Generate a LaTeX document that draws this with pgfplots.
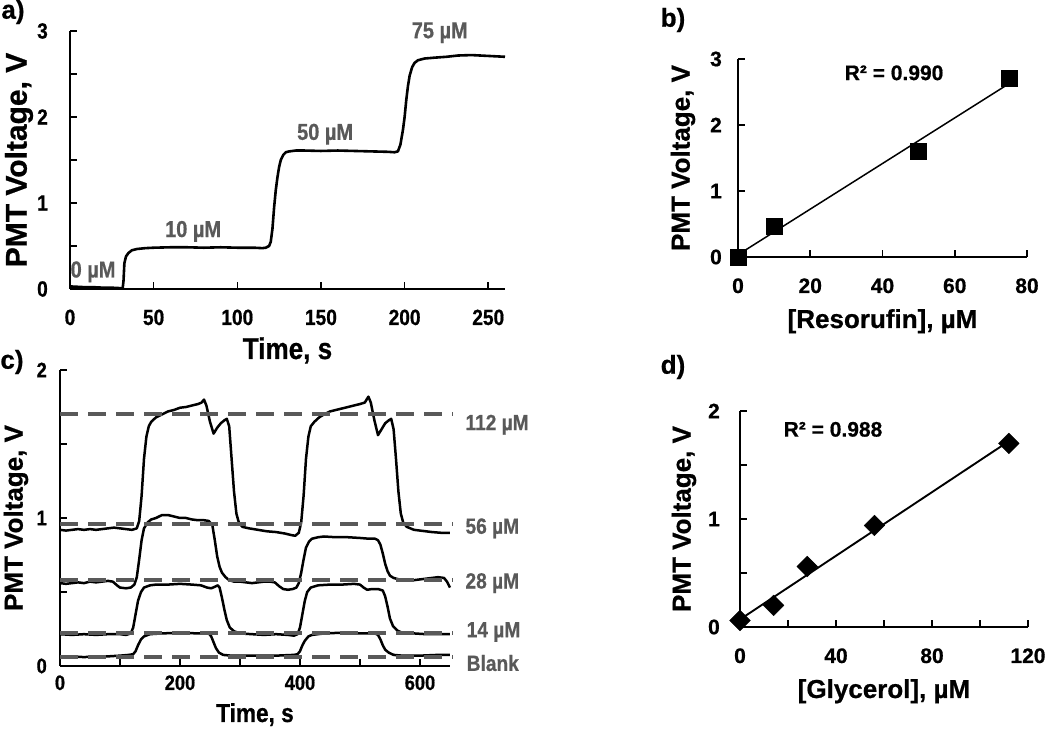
\documentclass[border=0pt]{standalone}
\usepackage{pgfplots}
\pgfplotsset{compat=1.18}
\usepackage{fontspec}
\setmainfont{Liberation Sans}[BoldFeatures={FakeBold=0.7}]
\newfontfamily\nar{Liberation Sans}[FakeStretch=0.87, BoldFeatures={FakeBold=0.7}]
\definecolor{lab}{HTML}{595959}
\newcommand{\fs}[1]{\fontsize{#1pt}{#1pt}\selectfont}

\pgfplotsset{
  base/.style={scale only axis, axis lines=left, axis line style={-, line width=2.2pt},
    tick align=inside, tick style={black, line width=1.6pt},
    major tick length=7pt, minor tick length=7pt, clip=false,
    /pgf/number format/assume math mode=true, anchor=south west,
    xticklabel style={anchor=base, inner sep=0pt},
    yticklabel style={anchor=east, inner sep=0pt},
    xlabel style={at={(axis description cs:0.5,0)}, anchor=base, inner sep=0pt},
    ylabel style={at={(axis description cs:0,0.5)}, anchor=center, inner sep=0pt},
  },
}

\begin{document}
\begin{tikzpicture}[x=1pt,y=1pt]
\useasboundingbox (0,0) rectangle (1050,730);

% ---------------- panel a ----------------
\begin{axis}[base, at={(70pt,441pt)}, width=435pt, height=258pt,
  xmin=0, xmax=260, ymin=0, ymax=3,
  xtick={0,50,100,150,200,250}, ytick={0,1,2,3}, minor y tick num=1,
  ticklabel style={font=\nar\bfseries\fs{22}},
  xticklabel style={yshift=-36pt}, yticklabel style={xshift=-22pt},
  label style={font=\bfseries\fs{30}},
  xlabel={\nar Time, s}, xlabel style={yshift=-70pt},
  ylabel={PMT Voltage, V}, ylabel style={yshift=51pt},
]
\addplot[black, line width=2.6pt, line join=round] coordinates {
(0,0.03) (5,0.025) (10,0.02) (15,0.02) (20,0.015) (25,0.015) (30,0.01) (31.5,0.01)
(32,0.1) (32.5,0.3) (33.5,0.38) (35,0.42) (37,0.45) (40,0.465) (45,0.475) (50,0.48)
(60,0.485) (70,0.485) (80,0.48) (90,0.485) (100,0.48) (110,0.48) (115,0.475) (117,0.48)
(119,0.5) (120,0.55) (121,0.7) (122,0.95) (123,1.15) (124,1.3) (125,1.42) (126,1.5)
(127.5,1.56) (129,1.59) (131,1.6) (135,1.61) (140,1.61) (150,1.605) (160,1.61) (170,1.605)
(180,1.6) (190,1.595) (194,1.59) (196,1.6) (197.5,1.68) (199,1.85) (200,2.0) (201,2.2)
(202,2.36) (203,2.48) (204.5,2.58) (206,2.63) (208,2.66) (212,2.68) (218,2.69) (225,2.7)
(232,2.715) (240,2.72) (250,2.71) (260,2.7)};
\node[lab, font=\nar\bfseries\fs{23}] at (axis cs:13.8,0.2) {0 µM};
\node[lab, font=\nar\bfseries\fs{23}] at (axis cs:73.6,0.67) {10 µM};
\node[lab, font=\nar\bfseries\fs{23}] at (axis cs:152.5,1.8) {50 µM};
\node[lab, font=\nar\bfseries\fs{23}] at (axis cs:221,2.98) {75 µM};
\end{axis}

% ---------------- panel b ----------------
\begin{axis}[base, at={(738pt,473pt)}, width=289pt, height=198pt,
  xmin=0, xmax=80, ymin=0, ymax=3,
  xtick={0,20,40,60,80}, ytick={0,1,2,3},
  ticklabel style={font=\bfseries\fs{21}},
  xticklabel style={yshift=-36pt}, yticklabel style={xshift=-16pt},
  label style={font=\bfseries\fs{26}},
  xlabel={[Resorufin], µM}, xlabel style={yshift=-71pt},
  ylabel={PMT Voltage, V}, ylabel style={yshift=55pt},
]
\addplot[black, line width=1.5pt] coordinates {(0,0.034) (75,2.626)};
\addplot[only marks, mark=square*, mark size=8pt, black] coordinates {(0,0) (10,0.47) (50,1.6) (75,2.71)};
\node[font=\bfseries\fs{21}] at (axis cs:43.2,2.79) {R² = 0.990};
\end{axis}

% ---------------- panel c ----------------
\begin{axis}[base, at={(60pt,64pt)}, width=390pt, height=296pt,
  xmin=0, xmax=650, ymin=0, ymax=2,
  xtick={0,200,400,600}, minor x tick num=1, ytick={0,1,2}, minor y tick num=1,
  axis line style={line width=1.8pt},
  ticklabel style={font=\nar\bfseries\fs{21}},
  xticklabel style={yshift=-24pt}, yticklabel style={xshift=-13pt},
  label style={font=\bfseries\fs{26}},
  xlabel={\nar Time, s}, xlabel style={yshift=-56pt},
  ylabel={PMT Voltage, V}, ylabel style={yshift=44pt},
]
\pgfplotsset{trace/.style={black, line width=2.5pt, line join=round}}
% 112 uM
\addplot[trace] coordinates {
(0,0.92) (10,0.915) (20,0.92) (30,0.925) (40,0.92) (50,0.925) (60,0.92) (70,0.925) (80,0.93)
(90,0.935) (100,0.93) (110,0.925) (120,0.92) (128,0.93) (132,0.98) (136,1.15) (140,1.4)
(144,1.55) (148,1.62) (152,1.65) (160,1.68) (170,1.70) (180,1.72) (190,1.73) (200,1.745)
(210,1.75) (220,1.76) (230,1.77) (236,1.78) (240,1.80) (244,1.76) (250,1.65) (256,1.57)
(262,1.61) (268,1.64) (274,1.66) (278,1.67) (282,1.62) (286,1.40) (290,1.18) (294,1.03)
(298,0.97) (304,0.94) (315,0.93) (330,0.92) (345,0.91) (360,0.905) (375,0.895) (385,0.885)
(392,0.88) (398,0.9) (402,0.97) (406,1.15) (410,1.4) (414,1.55) (418,1.62) (424,1.65)
(432,1.68) (440,1.70) (450,1.72) (460,1.73) (470,1.74) (480,1.75) (490,1.76) (500,1.77)
(508,1.78) (514,1.82) (518,1.78) (524,1.66) (530,1.56) (536,1.6) (542,1.64) (548,1.66)
(552,1.67) (556,1.60) (560,1.40) (564,1.18) (568,1.03) (572,0.97) (578,0.94) (590,0.92)
(600,0.915) (620,0.905) (635,0.90) (650,0.90)};
% 56 uM
\addplot[trace] coordinates {
(0,0.56) (10,0.555) (20,0.56) (30,0.565) (40,0.56) (50,0.57) (60,0.565) (70,0.57) (80,0.575)
(88,0.57) (95,0.545) (100,0.53) (110,0.525) (118,0.53) (124,0.55) (128,0.6) (132,0.72)
(136,0.85) (140,0.93) (146,0.97) (152,0.99) (160,1.0) (170,1.02) (180,1.02) (190,1.01)
(200,1.0) (210,1.0) (220,0.99) (230,0.985) (240,0.985) (248,0.98) (254,0.95) (258,0.85)
(262,0.74) (266,0.67) (270,0.63) (276,0.6) (282,0.58) (290,0.57) (300,0.57) (310,0.565)
(320,0.56) (330,0.565) (340,0.57) (350,0.57) (358,0.565) (365,0.54) (372,0.52) (380,0.515)
(388,0.52) (394,0.53) (398,0.56) (402,0.63) (406,0.72) (410,0.80) (415,0.84) (420,0.86)
(430,0.87) (440,0.875) (460,0.87) (480,0.87) (500,0.865) (515,0.86) (525,0.86) (530,0.85)
(534,0.82) (538,0.76) (542,0.69) (546,0.64) (550,0.61) (556,0.595) (565,0.585) (575,0.58)
(590,0.58) (600,0.585) (610,0.59) (620,0.595) (630,0.6) (640,0.595) (645,0.57) (650,0.53)};
% 28 uM
\addplot[trace] coordinates {
(0,0.215) (20,0.21) (40,0.215) (60,0.21) (80,0.215) (100,0.215) (110,0.21) (118,0.22)
(122,0.26) (126,0.35) (130,0.44) (135,0.5) (140,0.53) (150,0.545) (160,0.55) (180,0.55)
(200,0.555) (220,0.55) (235,0.545) (245,0.53) (252,0.525) (258,0.535) (263,0.545) (266,0.53)
(270,0.46) (274,0.38) (278,0.31) (283,0.26) (290,0.235) (300,0.22) (320,0.215) (340,0.21)
(360,0.215) (380,0.21) (390,0.205) (396,0.215) (400,0.26) (404,0.35) (408,0.44) (412,0.5)
(418,0.53) (430,0.545) (450,0.55) (470,0.55) (490,0.555) (500,0.55) (506,0.53) (512,0.515)
(520,0.52) (530,0.52) (538,0.51) (542,0.47) (546,0.4) (550,0.32) (555,0.27) (562,0.24)
(570,0.225) (590,0.22) (610,0.215) (630,0.215) (650,0.215)};
% blank
\addplot[trace] coordinates {
(0,0.06) (20,0.065) (40,0.06) (60,0.065) (80,0.065) (100,0.07) (115,0.075) (122,0.08)
(126,0.1) (130,0.14) (135,0.18) (140,0.2) (150,0.215) (170,0.22) (200,0.225) (230,0.22)
(248,0.22) (252,0.2) (256,0.16) (260,0.12) (265,0.09) (272,0.075) (285,0.07) (300,0.07)
(330,0.07) (360,0.07) (390,0.075) (396,0.08) (400,0.1) (404,0.14) (408,0.17) (414,0.2)
(420,0.21) (440,0.22) (470,0.225) (500,0.22) (525,0.22) (530,0.21) (534,0.18) (538,0.14)
(542,0.11) (548,0.09) (556,0.075) (570,0.07) (600,0.07) (630,0.075) (650,0.075)};
% dashed reference levels
\pgfplotsset{ref/.style={lab, line width=4pt, dash pattern=on 18pt off 10pt}}
\addplot[ref] coordinates {(0,1.70) (655,1.70)};
\addplot[ref] coordinates {(0,0.96) (655,0.96)};
\addplot[ref] coordinates {(0,0.58) (655,0.58)};
\addplot[ref] coordinates {(0,0.225) (655,0.225)};
\addplot[ref] coordinates {(0,0.06) (655,0.06)};
\node[lab, anchor=west, font=\nar\bfseries\fs{22}] at (axis cs:670,1.63) {112 µM};
\node[lab, anchor=west, font=\nar\bfseries\fs{22}] at (axis cs:670,0.93) {56 µM};
\node[lab, anchor=west, font=\nar\bfseries\fs{22}] at (axis cs:670,0.56) {28 µM};
\node[lab, anchor=west, font=\nar\bfseries\fs{22}] at (axis cs:672,0.23) {14 µM};
\node[lab, anchor=west, font=\nar\bfseries\fs{22}] at (axis cs:672,0.02) {Blank};
\end{axis}

% ---------------- panel d ----------------
\begin{axis}[base, at={(740pt,103pt)}, width=288pt, height=216pt,
  xmin=0, xmax=120, ymin=0, ymax=2,
  xtick={0,40,80,120}, minor x tick num=1, ytick={0,1,2}, minor y tick num=1,
  ticklabel style={font=\bfseries\fs{21}},
  xticklabel style={yshift=-36pt}, yticklabel style={xshift=-20pt},
  label style={font=\bfseries\fs{26}},
  xlabel={[Glycerol], µM}, xlabel style={yshift=-71pt},
  ylabel={PMT Voltage, V}, ylabel style={yshift=56pt},
]
\addplot[black, line width=1.9pt] coordinates {(0,0.07) (112,1.72)};
\addplot[only marks, mark=square*, mark size=7.3pt, mark options={rotate=45}, black] coordinates {(0,0.06) (14,0.2) (28,0.56) (56,0.94) (112,1.7)};
\node[font=\bfseries\fs{21}] at (axis cs:38.75,1.83) {R² = 0.988};
\end{axis}

% panel letters
\node[font=\bfseries\fs{26}] at (13,718) {a)};
\node[font=\bfseries\fs{26}] at (673,710) {b)};
\node[font=\bfseries\fs{26}] at (12,368) {c)};
\node[font=\bfseries\fs{26}] at (673,363) {d)};
\end{tikzpicture}
\end{document}
